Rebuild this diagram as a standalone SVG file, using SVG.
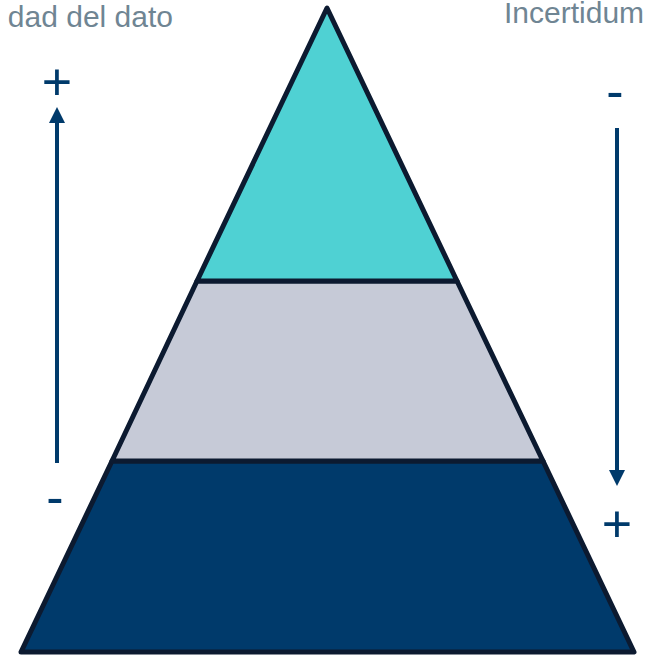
<svg xmlns="http://www.w3.org/2000/svg" width="649" height="656" viewBox="0 0 649 656">
  <style>
    .lvl { stroke: #0c1a30; stroke-width: 5; stroke-linejoin: round; }
    .axis { stroke: #003a6b; stroke-width: 4; fill: none; }
    .sign { font-family: "Liberation Sans", Arial, sans-serif; font-size: 52px; fill: #003a6b; text-anchor: middle; }
    .title { font-family: "Liberation Sans", Arial, sans-serif; font-size: 30px; fill: #6f8593; }
  </style>
  <defs>
    <marker id="head" viewBox="0 0 16 16" markerWidth="16" markerHeight="16" markerUnits="userSpaceOnUse" refX="0" refY="8" orient="auto">
      <path d="M0,0 L16,8 L0,16 z" fill="#003a6b"/>
    </marker>
  </defs>
  <rect width="649" height="656" fill="#ffffff"/>
  <g id="level-bottom">
    <polygon class="lvl" points="112,461 543,461 634,652 21,652" fill="#003a6b"/>
  </g>
  <g id="level-middle">
    <polygon class="lvl" points="197,281 457,281 543,461 112,461" fill="#c6cad7"/>
  </g>
  <g id="level-top">
    <polygon class="lvl" points="327,8 457,281 197,281" fill="#4fd1d3"/>
  </g>
  <g id="connectors">
    <line class="axis" x1="57" y1="463" x2="57" y2="123" marker-end="url(#head)"/>
    <line class="axis" x1="617" y1="128" x2="617" y2="470" marker-end="url(#head)"/>
  </g>
  <g id="labels">
    <text class="title" x="173" y="27" text-anchor="end">dad del dato</text>
    <text class="title" x="504" y="23">Incertidum</text>
    <text class="sign" x="57" y="100">+</text>
    <text class="sign" x="55" y="515">-</text>
    <text class="sign" x="615" y="109">-</text>
    <text class="sign" x="617" y="542">+</text>
  </g>
</svg>
